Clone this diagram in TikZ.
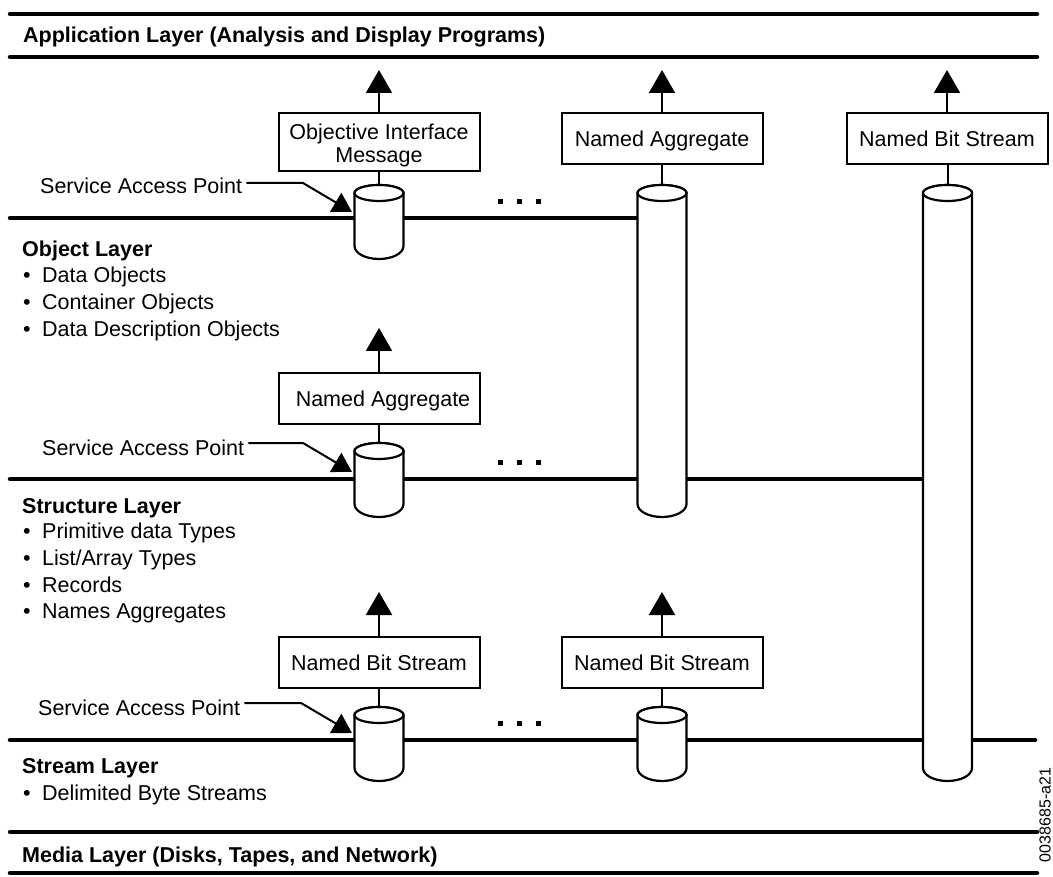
\documentclass[tikz,border=0pt]{standalone}
\usepackage{fontspec}
\setmainfont{Liberation Sans}
\usetikzlibrary{arrows.meta}
\tikzset{
 layerline/.style={line width=4.5pt, line cap=round},
 boxnode/.style={draw, line width=2pt, minimum width=201pt, minimum height=51pt, inner sep=0pt, align=center, font=\fontsize{21.5}{23}\selectfont, fill=white},
 boxone/.style={boxnode, text height=15.5pt, text depth=0pt},
 stem/.style={line width=2pt},
 uparrow/.style={line width=2pt, -{Triangle[length=23pt,width=26pt]}},
 sapleader/.style={line width=2pt, -{Triangle[length=19pt,width=22pt]}},
 cylline/.style={line width=2.2pt, fill=white, line join=round},
 txt/.style={inner sep=0pt, anchor=base west, font=\fontsize{21.5}{26}\selectfont},
 head/.style={inner sep=0pt, anchor=base west, font=\fontsize{21.5}{26}\selectfont\bfseries},
}
\newcommand\mycyl[4]{%
 \filldraw[cylline] ({#1-24.5},{-(#2+8)}) -- ({#1-24.5},{-#3}) arc[start angle=180,end angle=360,x radius=24.5,y radius=13] -- ({#1+24.5},{-(#2+8)}) arc[start angle=0,end angle=180,x radius=24.5,y radius=8] -- cycle;
 \draw[cylline] (#1,{-(#2+8)}) ellipse[x radius=24.5,y radius=8];
 \coordinate (#4) at (#1,-#2);
}
\newcommand\mybul[1]{\makebox[19pt][l]{•}#1}
\begin{document}
\begin{tikzpicture}[x=1pt,y=1pt]
\fill[white] (0,0) rectangle (1053,-877);
\useasboundingbox (0,0) rectangle (1053,-877);

% layer lines
\draw[layerline] (10,-14) -- (1037,-14);
\draw[layerline] (10,-57) -- (1037,-57);
\draw[layerline] (10,-218) -- (637.5,-218);
\draw[layerline] (10,-479) -- (923,-479);
\draw[layerline] (10,-740) -- (1035,-740);
\draw[layerline] (10,-832) -- (1037,-832);
\draw[layerline] (10,-873) -- (1037,-873);

% cylinders
\mycyl{379}{185}{246}{c1top}
\mycyl{662}{185}{504}{cAtop}
\mycyl{947.5}{185}{768}{cBtop}
\mycyl{379}{443}{504}{c2top}
\mycyl{379}{707}{768}{c3top}
\mycyl{662}{707}{768}{c4top}

% boxes
\node[boxnode, minimum height=58pt] (bOIM) at (379,-142) {\rule{0pt}{21.7pt}Objective Interface\\Message};
\node[boxone] (bNA1) at (662,-138.5) {Named Aggregate};
\node[boxone] (bNBS1) at (947,-138.5) {Named Bit Stream};
\node[boxone] (bNA2) at (379,-399) {\hspace*{8pt}Named Aggregate};
\node[boxone] (bNBS2) at (379,-662.5) {Named Bit Stream};
\node[boxone] (bNBS3) at (662,-662.5) {Named Bit Stream};

% arrow tips
\coordinate (t1) at (379,-70);
\coordinate (t2) at (662,-70);
\coordinate (t3) at (947,-70);
\coordinate (t4) at (379,-328);
\coordinate (t5) at (379,-592);
\coordinate (t6) at (662,-592);

% stems and arrows
\draw[stem] (bOIM.south) -- (c1top);
\draw[stem] (bNA1.south) -- (cAtop);
\draw[stem] (bNBS1.south -| cBtop) -- (cBtop);
\draw[stem] (bNA2.south) -- (c2top);
\draw[stem] (bNBS2.south) -- (c3top);
\draw[stem] (bNBS3.south) -- (c4top);
\draw[uparrow] (bOIM.north) -- (t1);
\draw[uparrow] (bNA1.north) -- (t2);
\draw[uparrow] (bNBS1.north) -- (t3);
\draw[uparrow] (bNA2.north) -- (t4);
\draw[uparrow] (bNBS2.north) -- (t5);
\draw[uparrow] (bNBS3.north) -- (t6);

% dots
\foreach \yy in {202,462,723}{
  \foreach \xx in {500,519,538}{
    \fill ({\xx-2.5},{-\yy-2.5}) rectangle ++(5,5);
  }
}

% headings and text
\node[head] (app) at (23,-43) {Application Layer (Analysis and Display Programs)};
\node[head] (objl) at (22,-257) {Object Layer};
\node[txt] (ob1) at (23,-283) {\mybul{Data Objects}};
\node[txt] (ob2) at (23,-310) {\mybul{Container Objects}};
\node[txt] (ob3) at (23,-337) {\mybul{Data Description Objects}};
\node[head] (strl) at (22,-513) {Structure Layer};
\node[txt] (st1) at (23,-538) {\mybul{Primitive data Types}};
\node[txt] (st2) at (23,-565) {\mybul{List/Array Types}};
\node[txt] (st3) at (23,-592) {\mybul{Records}};
\node[txt] (st4) at (23,-618) {\mybul{Names Aggregates}};
\node[head] (streaml) at (22,-773) {Stream Layer};
\node[txt] (sm1) at (23,-800) {\mybul{Delimited Byte Streams}};
\node[head] (medl) at (22,-862) {Media Layer (Disks, Tapes, and Network)};

% service access points
\node[txt] (sap1) at (40,-194) {Service Access Point};
\node[txt] (sap2) at (42,-456) {Service Access Point};
\node[txt] (sap3) at (38,-715) {Service Access Point};
\coordinate (k1) at (303,-183);
\coordinate (k2) at (303,-443);
\coordinate (k3) at (301,-703);
\coordinate (p1) at (352,-212);
\coordinate (p2) at (352,-472);
\coordinate (p3) at (352,-733);
\draw[sapleader] ([xshift=4pt]sap1.east |- k1) -- (k1) -- (p1);
\draw[sapleader] ([xshift=4pt]sap2.east |- k2) -- (k2) -- (p2);
\draw[sapleader] ([xshift=4pt]sap3.east |- k3) -- (k3) -- (p3);

% figure id
\node[rotate=90, inner sep=0pt, font=\fontsize{16}{16}\selectfont] (figid) at (1045,-815) {0038685-a21};
\end{tikzpicture}
\end{document}
